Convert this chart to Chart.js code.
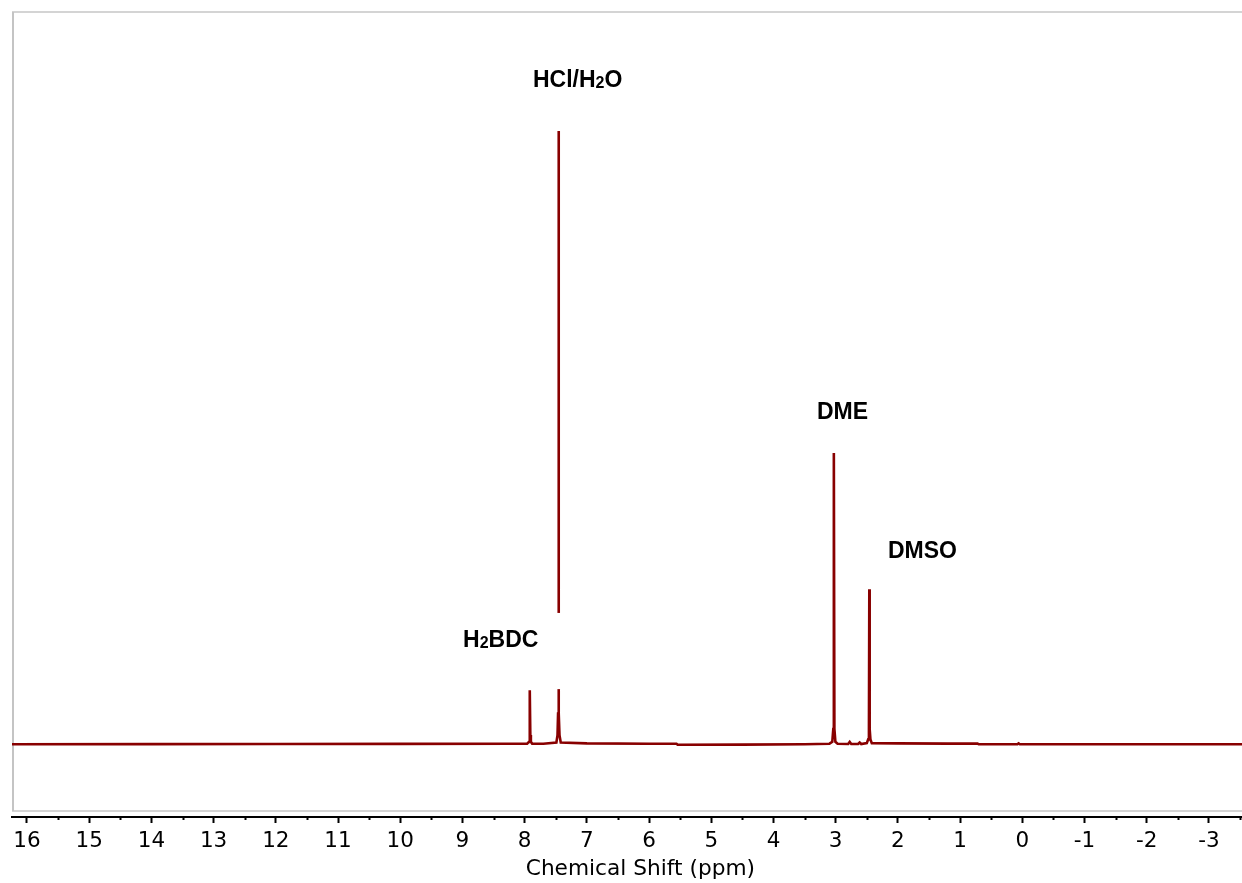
<!DOCTYPE html>
<html>
<head>
<meta charset="utf-8">
<script src="https://cdn.jsdelivr.net/npm/chart.js@4.4.1/dist/chart.umd.min.js"></script>
<style>
  html, body { margin: 0; padding: 0; background: #fff; }
</style>
</head>
<body>
<canvas id="nmrChart" width="1242" height="883"></canvas>
<script>
// 1H NMR spectrum (ppm, relative intensity)
const shiftPpm = [
  16.3, 14.0, 12.0, 10.0, 8.2, 7.96,
  7.93, 7.921, 7.915, 7.909, 7.90, 7.88,
  7.70, 7.49, 7.472, 7.463, 7.456, 7.449, 7.440, 7.42,
  7.0, 6.0, 5.56, 5.54, 4.5, 3.5, 3.10,
  3.055, 3.039, 3.03, 3.021, 3.005, 2.97,
  2.80, 2.775, 2.75, 2.64, 2.615, 2.59,
  2.50, 2.478, 2.466, 2.46, 2.454, 2.442, 2.42,
  2.0, 1.2, 0.72, 0.70, 0.08, 0.06, 0.04, -1.5, -3.6
];
const intensity = [
  0.000, 0.0003, 0.0006, 0.0008, 0.0010, 0.0012,
  0.004, 0.015, 0.088, 0.015, 0.004, 0.0012,
  0.0010, 0.003, 0.015, 0.050, 1.000, 0.050, 0.015, 0.003,
  0.0015, 0.0010, 0.0010, -0.0008, -0.0005, 0.0000, 0.0010,
  0.004, 0.025, 0.475, 0.025, 0.004, 0.001,
  0.0005, 0.004, 0.0005, 0.0005, 0.003, 0.0005,
  0.002, 0.008, 0.025, 0.253, 0.025, 0.008, 0.002,
  0.0015, 0.0012, 0.0012, 0.0000, 0.0000, 0.0015, 0.0000, 0.0000, 0.0000
];
const xTicks = [16, 15, 14, 13, 12, 11, 10, 9, 8, 7, 6, 5, 4, 3, 2, 1, 0, -1, -2, -3];
const axisTitle = 'Chemical Shift (ppm)';

const peakNotes = [
  { text: 'HCl/H₂O', ppm: 7.866, level: 1.071 },
  { text: 'H₂BDC',   ppm: 8.991, level: 0.159 },
  { text: 'DME',     ppm: 3.301, level: 0.530 },
  { text: 'DMSO',    ppm: 2.160, level: 0.304 }
];

const spectrum = shiftPpm.map((p, i) => ({ x: p, y: intensity[i] }));

// grey frame round the plot
const framePlugin = {
  id: 'frame',
  beforeDraw(chart) {
    const a = chart.chartArea, ctx = chart.ctx;
    ctx.save();
    ctx.strokeStyle = '#d4d4d4';
    ctx.lineWidth = 2;
    ctx.beginPath();
    ctx.moveTo(a.left, a.top);
    ctx.lineTo(a.right, a.top);
    ctx.moveTo(a.left, a.bottom - 6);
    ctx.lineTo(a.right, a.bottom - 6);
    ctx.stroke();
    ctx.strokeStyle = '#c4c4c4';
    ctx.beginPath();
    ctx.moveTo(a.left + 1, a.top);
    ctx.lineTo(a.left + 1, a.bottom - 6);
    ctx.stroke();
    ctx.restore();
  }
};

// half-ppm minor ticks and the axis title
const axisExtras = {
  id: 'axisExtras',
  afterDraw(chart) {
    const xs = chart.scales.x, ctx = chart.ctx;
    ctx.save();
    ctx.strokeStyle = '#000';
    ctx.lineWidth = 2;
    ctx.beginPath();
    for (let v = -3.5; v < 16.2; v += 1) {
      const px = Math.round(xs.getPixelForValue(v)) + 0.5;
      ctx.moveTo(px, xs.top);
      ctx.lineTo(px, xs.top + 3);
    }
    ctx.stroke();
    ctx.fillStyle = '#000';
    ctx.font = '21.7px "DejaVu Sans", Verdana, sans-serif';
    ctx.textAlign = 'center';
    ctx.textBaseline = 'alphabetic';
    ctx.fillText(axisTitle, xs.getPixelForValue(6.14), xs.top + 58);
    ctx.restore();
  }
};

// peak labels with subscript 2
const notesPlugin = {
  id: 'notes',
  afterDatasetsDraw(chart) {
    const xs = chart.scales.x, ys = chart.scales.y, ctx = chart.ctx;
    ctx.save();
    // small break in the tall peak
    ctx.fillStyle = '#fff';
    const bx = xs.getPixelForValue(7.456);
    ctx.fillRect(bx - 4, ys.getPixelForValue(0.2142), 8, ys.getPixelForValue(0.09) - ys.getPixelForValue(0.2142));

    ctx.fillStyle = '#000';
    ctx.textBaseline = 'alphabetic';
    ctx.textAlign = 'left';
    peakNotes.forEach(n => {
      let x = xs.getPixelForValue(n.ppm);
      const y = ys.getPixelForValue(n.level);
      n.text.split(/(₂)/).forEach(part => {
        if (!part) return;
        if (part === '₂') {
          ctx.font = 'bold 16px "Liberation Sans", Arial, sans-serif';
          ctx.fillText('2', x, y + 1);
        } else {
          ctx.font = 'bold 23px "Liberation Sans", Arial, sans-serif';
          ctx.fillText(part, x, y);
        }
        x += ctx.measureText(part === '₂' ? '2' : part).width;
      });
    });
    ctx.restore();
  }
};

new Chart(document.getElementById('nmrChart'), {
  type: 'line',
  data: {
    datasets: [{
      data: spectrum,
      borderColor: '#880000',
      borderWidth: 2.6,
      pointRadius: 0,
      tension: 0,
      fill: false
    }]
  },
  options: {
    responsive: false,
    animation: false,
    devicePixelRatio: 1,
    layout: { padding: { left: 12, top: 12, right: 0, bottom: 0 } },
    plugins: { legend: { display: false }, tooltip: { enabled: false } },
    scales: {
      x: {
        type: 'linear',
        reverse: true,
        min: -3.531,
        max: 16.241,
        afterFit(scale) { scale.height = 66; },
        afterBuildTicks(scale) { scale.ticks = xTicks.map(v => ({ value: v })); },
        border: { display: true, color: '#000', width: 2 },
        grid: {
          drawOnChartArea: false,
          drawTicks: true,
          tickLength: 6,
          tickColor: '#000',
          tickWidth: 2
        },
        ticks: {
          color: '#000',
          padding: 6,
          maxRotation: 0,
          autoSkip: false,
          font: { family: '"DejaVu Sans", Verdana, sans-serif', size: 21.5 },
          callback: v => String(v)
        },
        title: { display: false }
      },
      y: {
        display: false,
        min: -0.1185,
        max: 1.194
      }
    }
  },
  plugins: [framePlugin, axisExtras, notesPlugin]
});
</script>
</body>
</html>
